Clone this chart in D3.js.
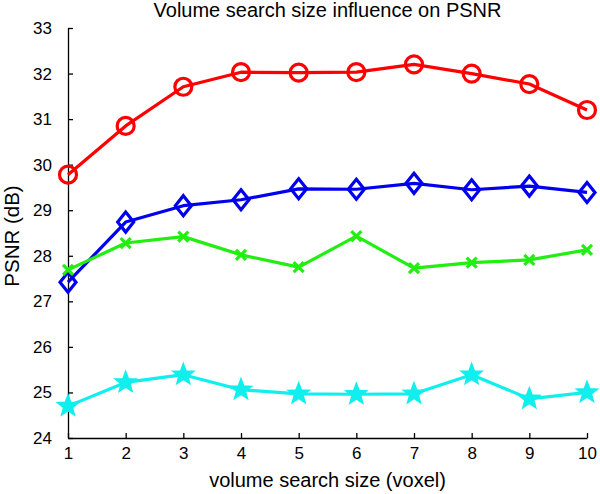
<!DOCTYPE html>
<html>
<head>
<meta charset="utf-8">
<script src="https://cdn.jsdelivr.net/npm/d3@7"></script>
<style>
  body { margin: 0; background: #fff; }
  svg { display: block; font-family: "Liberation Sans", Arial, sans-serif; }
</style>
</head>
<body>
<svg></svg>
<script>
// data
const searchSize = [1, 2, 3, 4, 5, 6, 7, 8, 9, 10];
const redCircle = [29.78, 30.85, 31.71, 32.03, 32.02, 32.03, 32.20, 32.00, 31.77, 31.20];
const blueDiamond = [27.42, 28.74, 29.10, 29.23, 29.47, 29.46, 29.59, 29.45, 29.53, 29.39];
const greenCross = [27.69, 28.28, 28.42, 28.02, 27.75, 28.43, 27.73, 27.85, 27.91, 28.13];
const cyanStar = [24.70, 25.22, 25.39, 25.06, 24.97, 24.96, 24.97, 25.39, 24.86, 25.00];
const yTicks = [24, 25, 26, 27, 28, 29, 30, 31, 32, 33];

const width = 600, height = 494;
const margin = { top: 28, right: 13, bottom: 56, left: 68 };
const w = width - margin.left - margin.right;
const h = height - margin.top - margin.bottom;

const svg = d3.select("svg")
    .attr("width", width)
    .attr("height", height);
const chart = svg.append("g")
    .attr("transform", `translate(${margin.left},${margin.top})`);

const x = d3.scaleLinear().domain([1, 10]).range([0, w]);
const y = d3.scaleLinear().domain([24, 33]).range([h, 0]);

// axes, MATLAB style: ticks point inward
const xAxis = d3.axisBottom(x).tickValues(searchSize).tickSizeInner(-5).tickSizeOuter(0).tickPadding(9);
const yAxis = d3.axisLeft(y).tickValues(yTicks).tickSizeInner(-5).tickSizeOuter(0).tickPadding(16);

const gx = chart.append("g").attr("transform", `translate(0,${h})`).call(xAxis);
const gy = chart.append("g").call(yAxis);
[gx, gy].forEach(g => {
    g.selectAll("path, line").attr("stroke", "#000").attr("stroke-width", 1.3);
    g.selectAll("text").attr("font-size", 17).attr("fill", "#000")
        .attr("font-family", "'Liberation Sans', Arial, sans-serif");
});
gx.selectAll("text").attr("dy", "0.71em");

// titles
svg.append("text")
    .attr("x", margin.left + w / 2).attr("y", 17)
    .attr("text-anchor", "middle").attr("font-size", 20)
    .text("Volume search size influence on PSNR");
svg.append("text")
    .attr("x", margin.left + w / 2).attr("y", 487)
    .attr("text-anchor", "middle").attr("font-size", 20)
    .text("volume search size (voxel)");
svg.append("text")
    .attr("transform", `translate(19,${margin.top + h / 2 + 3}) rotate(-90)`)
    .attr("text-anchor", "middle").attr("font-size", 20.5)
    .text("PSNR (dB)");

const series = [
    { values: redCircle, color: "#ff0000", marker: "circle" },
    { values: blueDiamond, color: "#0000ee", marker: "diamond" },
    { values: greenCross, color: "#22ee11", marker: "cross" },
    { values: cyanStar, color: "#11eeee", marker: "star" }
];

const line = d3.line().x((d, i) => x(searchSize[i])).y(d => y(d));

function starPath(r) {
    const inner = r * 0.42;
    let p = "";
    for (let k = 0; k < 10; k++) {
        const a = -Math.PI / 2 + k * Math.PI / 5;
        const rr = k % 2 === 0 ? r : inner;
        p += (k === 0 ? "M" : "L") + (rr * Math.cos(a)).toFixed(2) + "," + (rr * Math.sin(a)).toFixed(2);
    }
    return p + "Z";
}

series.forEach(s => {
    chart.append("path")
        .datum(s.values)
        .attr("d", line)
        .attr("fill", "none")
        .attr("stroke", s.color)
        .attr("stroke-width", 3.2)
        .attr("stroke-linejoin", "round");

    const pts = chart.selectAll(null)
        .data(s.values)
        .join("g")
        .attr("transform", (d, i) => `translate(${x(searchSize[i])},${y(d)})`);

    if (s.marker === "circle") {
        pts.append("circle").attr("r", 8.5)
            .attr("fill", "none").attr("stroke", s.color).attr("stroke-width", 3.2);
    } else if (s.marker === "diamond") {
        pts.append("path").attr("d", "M0,-10L8,0L0,10L-8,0Z")
            .attr("fill", "none").attr("stroke", s.color).attr("stroke-width", 3.2);
    } else if (s.marker === "cross") {
        pts.append("path").attr("d", "M-5,-5L5,5M-5,5L5,-5")
            .attr("fill", "none").attr("stroke", s.color).attr("stroke-width", 3.2);
    } else {
        pts.append("path").attr("d", starPath(11))
            .attr("fill", s.color).attr("stroke", s.color).attr("stroke-width", 1.5);
    }
});
</script>
</body>
</html>
